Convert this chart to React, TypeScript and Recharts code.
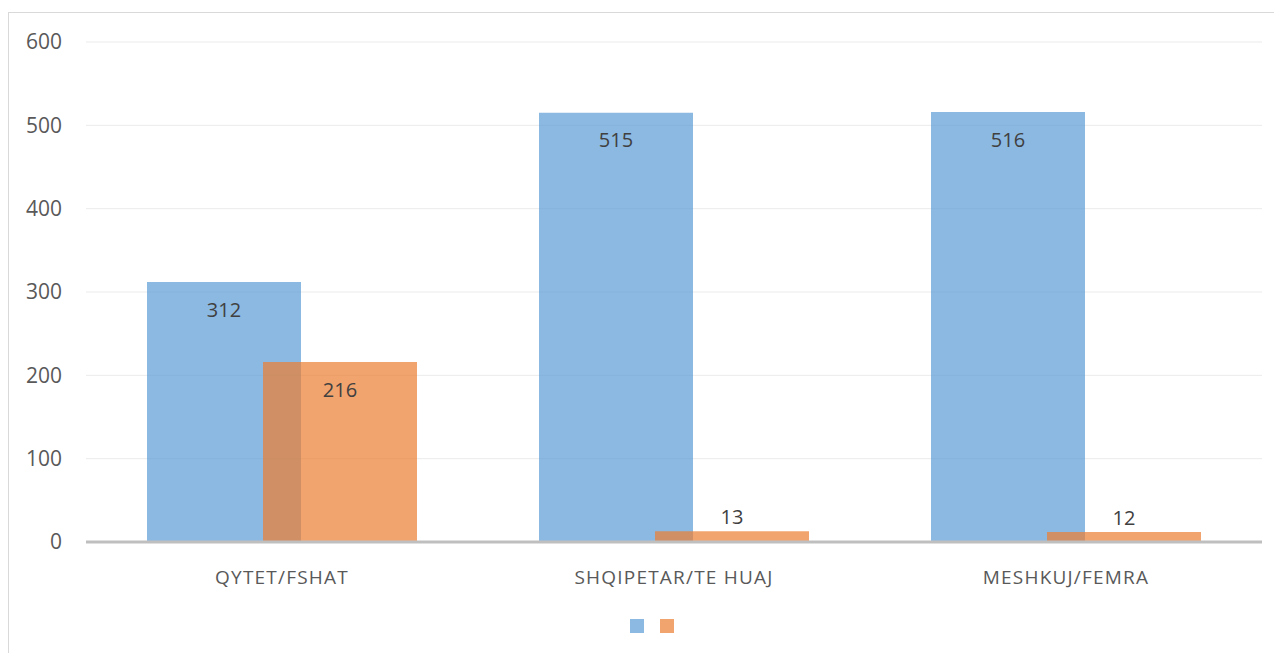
import React from 'react';
import {
  BarChart,
  Bar,
  XAxis,
  YAxis,
  CartesianGrid,
  Legend,
  LabelList,
} from 'recharts';

const categories = ['QYTET/FSHAT', 'SHQIPETAR/TE HUAJ', 'MESHKUJ/FEMRA'];
const firstValues = [312, 515, 516];
const secondValues = [216, 13, 12];
const yTicks = [0, 100, 200, 300, 400, 500, 600];

const data = categories.map((name, i) => ({
  name,
  a: firstValues[i],
  b: secondValues[i],
}));

const FONT = '"Open Sans", sans-serif';

const renderLabel = (props: any) => {
  const { x, y, width, height, value } = props;
  const cx = Number(x) + Number(width) / 2;
  const inside = Number(height) > 40;
  const cy = inside ? Number(y) + 27 : Number(y) - 15;
  return (
    <text
      x={cx}
      y={cy}
      textAnchor="middle"
      dominantBaseline="central"
      fill="#404040"
      fontSize={20}
      fontFamily={FONT}
    >
      {value}
    </text>
  );
};

const renderLegend = () => (
  <div
    style={{
      display: 'flex',
      justifyContent: 'center',
      gap: 16,
      height: 14,
      paddingLeft: 32,
    }}
  >
    <div style={{ width: 14, height: 14, background: '#5B9BD5', opacity: 0.7 }} />
    <div style={{ width: 14, height: 14, background: '#ED7D31', opacity: 0.7 }} />
  </div>
);

export default function App() {
  return (
    <div style={{ paddingTop: 4 }}>
      <div
        style={{
          width: 1273,
          height: 640,
          borderTop: '1px solid #D9D9D9',
          borderLeft: '1px solid #D9D9D9',
          background: '#fff',
        }}
      >
        <BarChart
          width={1273}
          height={640}
          data={data}
          margin={{ top: 29, right: 20, left: 0, bottom: 20 }}
          barSize={154}
          barGap={-38}
        >
          <CartesianGrid vertical={false} stroke="#EBEBEB" />
          <XAxis
            dataKey="name"
            height={77}
            tickLine={false}
            axisLine={{ stroke: '#BFBFBF', strokeWidth: 3 }}
            tickMargin={23}
            tick={{ fill: '#595959', fontSize: 19, fontFamily: FONT, letterSpacing: 1.2 }}
          />
          <YAxis
            width={77}
            domain={[0, 600]}
            ticks={yTicks}
            tickLine={false}
            axisLine={false}
            tickMargin={18}
            tick={{ fill: '#595959', fontSize: 21, fontFamily: FONT }}
          />
          <Legend verticalAlign="bottom" content={renderLegend} />
          <Bar dataKey="a" fill="#5B9BD5" fillOpacity={0.7} isAnimationActive={false}>
            <LabelList dataKey="a" content={renderLabel} />
          </Bar>
          <Bar dataKey="b" fill="#ED7D31" fillOpacity={0.7} isAnimationActive={false}>
            <LabelList dataKey="b" content={renderLabel} />
          </Bar>
        </BarChart>
      </div>
    </div>
  );
}
